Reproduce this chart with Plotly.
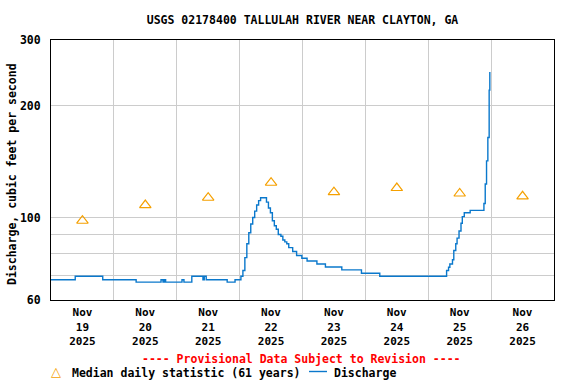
import plotly.graph_objects as go

# Discharge time series (cfs)
times = [
    "2025-11-19 00:00", "2025-11-19 09:15", "2025-11-19 19:45",
    "2025-11-20 08:30", "2025-11-20 18:00", "2025-11-20 18:45", "2025-11-20 19:15", "2025-11-20 19:45",
    "2025-11-21 02:00", "2025-11-21 02:45", "2025-11-21 05:45", "2025-11-21 10:00", "2025-11-21 10:30",
    "2025-11-21 11:15", "2025-11-21 19:15", "2025-11-21 22:15",
    "2025-11-22 00:30", "2025-11-22 01:15", "2025-11-22 02:00", "2025-11-22 02:45", "2025-11-22 03:30",
    "2025-11-22 04:15", "2025-11-22 05:00", "2025-11-22 05:45", "2025-11-22 06:30", "2025-11-22 07:15",
    "2025-11-22 08:00", "2025-11-22 10:15", "2025-11-22 11:00", "2025-11-22 11:45", "2025-11-22 12:30",
    "2025-11-22 13:15", "2025-11-22 14:00", "2025-11-22 14:45", "2025-11-22 15:45", "2025-11-22 16:30",
    "2025-11-22 17:15", "2025-11-22 18:00", "2025-11-22 18:45", "2025-11-22 20:15", "2025-11-22 21:45",
    "2025-11-22 23:45", "2025-11-23 01:45", "2025-11-23 05:30", "2025-11-23 08:45", "2025-11-23 15:00",
    "2025-11-23 22:30", "2025-11-24 05:30",
    "2025-11-25 07:00", "2025-11-25 07:45", "2025-11-25 08:15", "2025-11-25 09:15", "2025-11-25 09:45",
    "2025-11-25 10:30", "2025-11-25 11:00", "2025-11-25 11:45", "2025-11-25 12:30", "2025-11-25 13:00",
    "2025-11-25 13:45", "2025-11-25 16:00", "2025-11-25 21:15", "2025-11-25 21:45", "2025-11-25 22:15",
    "2025-11-25 22:45", "2025-11-25 23:15", "2025-11-25 23:30",
]
discharge = [
    68, 69.5, 68,
    67, 68, 67, 68, 67,
    68, 67, 69.5, 68, 69.5,
    68, 67, 68,
    69.5, 72, 78, 85, 91,
    96, 100, 104, 108, 111,
    113, 110, 106, 103, 98,
    95, 93, 90, 89, 87,
    86, 85, 83, 81, 79,
    77.7, 76.4, 75, 73.6, 72.3,
    70.8, 69.5,
    72, 73.5, 75, 77, 81.5,
    85, 88, 92, 96.5, 100.5,
    103, 104.5, 109, 123, 142,
    164, 220, 246,
]

# Median daily statistic (61 years), plotted at noon
median_days = ["2025-11-19 12:00", "2025-11-20 12:00", "2025-11-21 12:00", "2025-11-22 12:00",
               "2025-11-23 12:00", "2025-11-24 12:00", "2025-11-25 12:00", "2025-11-26 12:00"]
median_vals = [98, 108, 113, 124, 117, 120, 116, 114]

tick_labels = ["Nov<br>19<br>2025", "Nov<br>20<br>2025", "Nov<br>21<br>2025", "Nov<br>22<br>2025",
               "Nov<br>23<br>2025", "Nov<br>24<br>2025", "Nov<br>25<br>2025", "Nov<br>26<br>2025"]
midnights = ["2025-11-%02d" % d for d in range(19, 28)]
y_ticks = [60, 100, 200, 300]
y_minor = [70, 80, 90]

FONT = "DejaVu Sans Mono"
FS = 11.5
BLUE = "#0a78cc"
ORANGE = "#f5a000"
GRID = "#cccccc"

fig = go.Figure()
fig.add_trace(go.Scatter(
    x=times, y=discharge, mode="lines", line=dict(color=BLUE, width=1.4, shape="hv"),
    name="Discharge", showlegend=False))
fig.add_trace(go.Scatter(
    x=median_days, y=median_vals, mode="markers",
    marker=dict(symbol="triangle-up-open", size=10, color=ORANGE, line=dict(width=1.2, color=ORANGE)),
    name="Median daily statistic (61 years)", showlegend=False))

W, H = 576, 384
L, R, T, B = 51, 22, 40, 84
pw, ph = W - L - R, H - T - B

def px(xp):
    return (xp - L) / pw

def py(yp):
    return (H - B - yp) / ph

fig.update_layout(
    width=W, height=H,
    margin=dict(l=L, r=R, t=T, b=B),
    paper_bgcolor="white", plot_bgcolor="white",
    font=dict(family=FONT, size=FS, color="black", weight="bold"),
    title=dict(text="USGS 02178400 TALLULAH RIVER NEAR CLAYTON, GA",
               x=0.5 * (L + W - R) / W, xanchor="center", y=1 - 20 / H, yanchor="middle",
               font=dict(family=FONT, size=FS, color="black", weight="bold")),
    xaxis=dict(
        range=["2025-11-19", "2025-11-27"], tickmode="array", tickvals=median_days,
        ticktext=tick_labels, showgrid=False, ticks="", ticklabelstandoff=2,
        tickfont=dict(family=FONT, size=11, weight="bold"),
        showline=True, linecolor="black", linewidth=1, mirror=True, zeroline=False,
        minor=dict(tickvals=midnights, showgrid=True, gridcolor=GRID, gridwidth=1, ticks=""),
    ),
    yaxis=dict(
        type="log", range=[1.7781513, 2.4771213], tickmode="array", tickvals=y_ticks,
        ticktext=[str(v) for v in y_ticks], showgrid=True, gridcolor=GRID, gridwidth=1,
        ticks="", ticklabelstandoff=7,
        showline=True, linecolor="black", linewidth=1, mirror=True, zeroline=False,
        minor=dict(tickvals=y_minor, showgrid=True, gridcolor=GRID, gridwidth=1, ticks=""),
    ),
    showlegend=False,
)

fig.add_annotation(text="Discharge, cubic feet per second", xref="paper", yref="paper",
                   x=px(12), y=py(174), textangle=-90, showarrow=False,
                   xanchor="center", yanchor="middle", font=dict(family=FONT, size=FS, weight="bold"))
fig.add_annotation(text="---- Provisional Data Subject to Revision ----", xref="paper", yref="paper",
                   x=px(301), y=py(359), showarrow=False, xanchor="center", yanchor="middle",
                   font=dict(family=FONT, size=FS, color="#ff0000", weight="bold"))
fig.add_annotation(text="\u25b3", xref="paper", yref="paper", x=px(56), y=py(371), showarrow=False,
                   xanchor="center", yanchor="middle", font=dict(family="DejaVu Sans", size=13, color=ORANGE))
fig.add_annotation(text="Median daily statistic (61 years)", xref="paper", yref="paper",
                   x=px(70), y=py(372.5), showarrow=False, xanchor="left", yanchor="middle",
                   font=dict(family=FONT, size=FS, weight="bold"))
fig.add_shape(type="line", xref="paper", yref="paper", x0=px(309), x1=px(327), y0=py(371.5), y1=py(371.5),
              line=dict(color=BLUE, width=1.4))
fig.add_annotation(text="Discharge", xref="paper", yref="paper",
                   x=px(332), y=py(372.5), showarrow=False, xanchor="left", yanchor="middle",
                   font=dict(family=FONT, size=FS, weight="bold"))

fig.write_html("out.html", config={"displayModeBar": False},
               post_script="document.body.style.margin='0';document.body.style.padding='0';")
